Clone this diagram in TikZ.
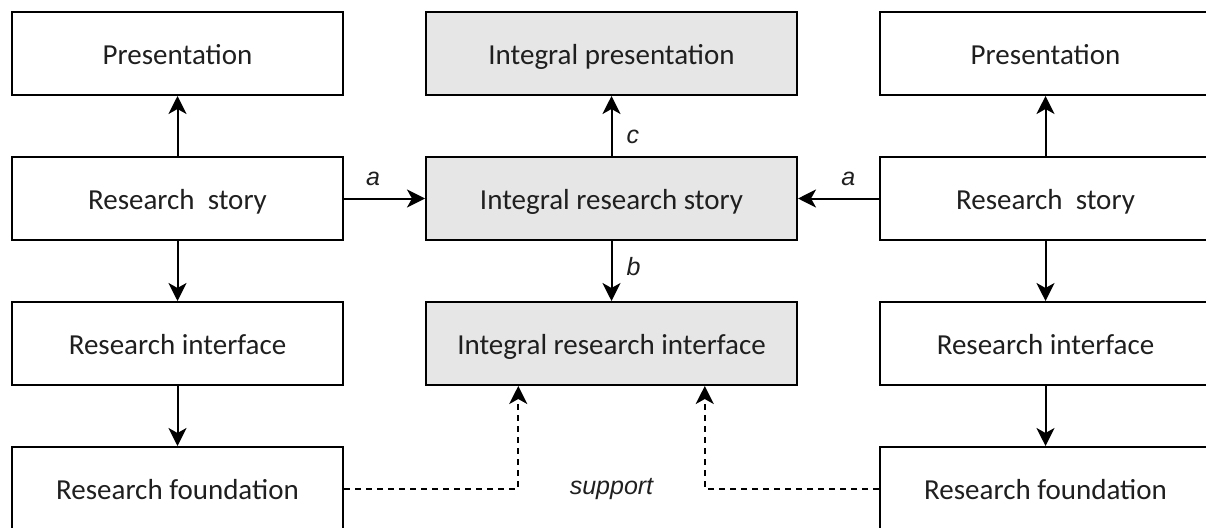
\documentclass[tikz,border=0pt]{standalone}
\usepackage{fontspec}
\setmainfont{Carlito}
\newfontfamily\lblfont{Liberation Sans}
\usetikzlibrary{arrows.meta,positioning,calc}

\definecolor{boxgray}{HTML}{E6E6E6}
\definecolor{txtgray}{HTML}{1F1F1F}
\tikzset{
  block/.style={draw,line width=2pt,minimum width=331pt,minimum height=83pt,inner sep=0pt,
    text height=27pt,text depth=6pt,text=txtgray,font=\fontsize{29}{34}\selectfont},
  wideblock/.style={block,fill=boxgray,minimum width=371pt},
  arr/.style={-{Stealth[length=18pt,width=18pt,inset=5pt]},line width=2pt},
  sup/.style={arr,dashed,dash pattern=on 6pt off 5pt},
  lbl/.style={inner sep=0pt,text=txtgray,font=\lblfont\itshape\fontsize{25}{29}\selectfont}
}

\begin{document}
\begin{tikzpicture}[x=1pt,y=-1pt]
\useasboundingbox (0,0) rectangle (1206,527);
\clip (0,0) rectangle (1206,527);
% Left column
\node[block] (lpres) at (177.5,53.5) {Presentation};
\node[block] (lstory) at (177.5,198.5) {Research\ \ story};
\node[block] (lint) at (177.5,343.5) {Research interface};
\node[block] (lfound) at (177.5,488.5) {Research foundation};

% Integral column
\node[wideblock] (mpres) at (611.5,53.5) {Integral presentation};
\node[wideblock] (mstory) at (611.5,198.5) {Integral research story};
\node[wideblock] (mint) at (611.5,343.5) {Integral research interface};

% Right column
\node[block] (rpres) at (1045.5,53.5) {Presentation};
\node[block] (rstory) at (1045.5,198.5) {Research\ \ story};
\node[block] (rint) at (1045.5,343.5) {Research interface};
\node[block] (rfound) at (1045.5,488.5) {Research foundation};

% Within columns
\draw[arr] (lstory) -- (lpres);
\draw[arr] (lstory) -- (lint);
\draw[arr] (lint) -- (lfound);
\draw[arr] (rstory) -- (rpres);
\draw[arr] (rstory) -- (rint);
\draw[arr] (rint) -- (rfound);
\draw[arr] (mstory) -- node[lbl,pos=0.32,right=14pt] {c} (mpres);
\draw[arr] (mstory) -- node[lbl,pos=0.42,right=14pt] {b} (mint);

% Into the integral story
\draw[arr] (lstory) -- node[lbl,pos=0.36,above=12pt] {a} (mstory);
\draw[arr] (rstory) -- node[lbl,pos=0.38,above=12pt] {a} (mstory);

% Support
\draw[sup] (lfound.east) -| ($(mint.south west)!0.25!(mint.south east)$);
\draw[sup] (rfound.west) -| ($(mint.south west)!0.75!(mint.south east)$);
\node[lbl] (support) at (611.5,489) {support};
\end{tikzpicture}
\end{document}
